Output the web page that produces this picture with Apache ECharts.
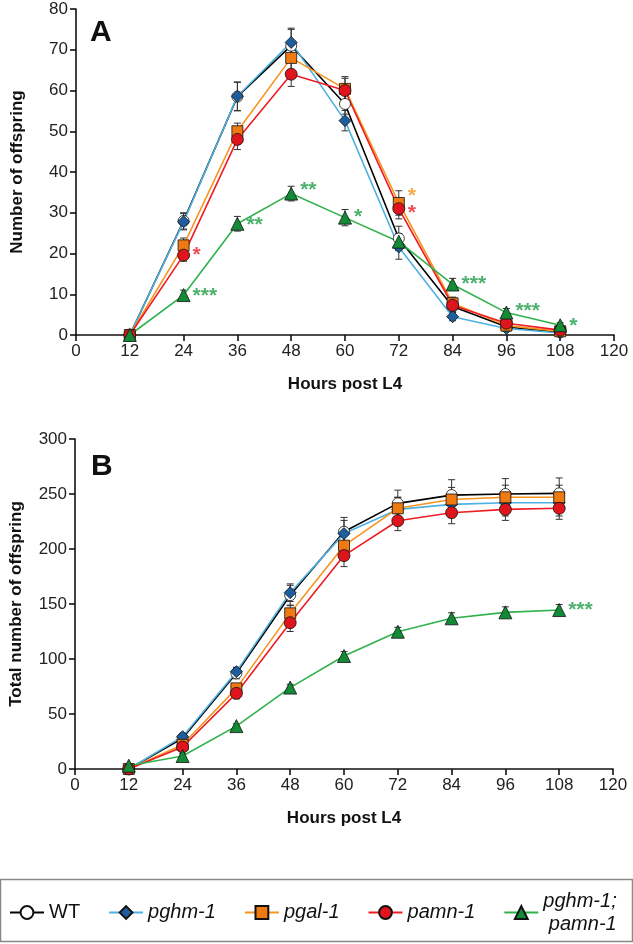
<!DOCTYPE html>
<html>
<head>
<meta charset="utf-8">
<script src="https://cdn.jsdelivr.net/npm/echarts@6/dist/echarts.min.js"></script>
<style>
  html, body { margin: 0; padding: 0; background: #fff; }
  #main { width: 633px; height: 944px; }
</style>
</head>
<body>
<div id="main"></div>
<script>
// hours post L4
const hours = [12, 24, 36, 48, 60, 72, 84, 96, 108];

// panel A: number of offspring per interval
const wtA   = [0, 28, 58.5, 71, 56.7, 23.7, 7, 2, 0.7];
const pghmA = [0, 27.8, 58.6, 71.8, 52.6, 21.6, 4.5, 1.6, 0.5];
const pgalA = [0, 22, 50, 68, 60.4, 32.4, 7.8, 2.3, 0.9];
const pamnA = [0, 19.6, 48, 64, 60, 31, 7.3, 2.9, 1.2];
const dblA  = [0, 9.8, 27.3, 34.7, 28.8, 22.9, 12.4, 5.5, 2.4];
const wtAErr   = [0.3, 2, 3.5, 4, 2.5, 3, 1.5, 0.8, 0.5];
const pghmAErr = [0.3, 2, 3.5, 3.5, 2.5, 3, 1, 0.6, 0.4];
const pgalAErr = [0.3, 1.8, 2, 3, 3, 3, 1.5, 0.8, 0.5];
const pamnAErr = [0.3, 1.5, 2.5, 3, 3, 2.5, 1.5, 0.8, 0.5];
const dblAErr  = [0.3, 1.2, 1.8, 1.8, 2, 2, 1.5, 1, 0.6];

// panel B: cumulative offspring
const wtB   = [0, 28, 87, 158, 215.7, 241.5, 249, 250, 250.6];
const pghmB = [0, 29.4, 88.5, 160.3, 214, 236, 240.6, 242, 242];
const pgalB = [0, 22, 73.3, 141.5, 203, 237, 245, 247, 247];
const pamnB = [0, 20, 68.8, 133, 194, 225.7, 233, 236, 237];
const dblB  = [3, 11.8, 39, 74, 102.7, 124.8, 137, 142.4, 144.5];
const wtBErr   = [0.5, 3, 5, 9, 13, 12, 14, 14, 14];
const pghmBErr = [0.5, 3, 4, 8, 12, 11, 12, 12, 12];
const pgalBErr = [0.5, 3, 4, 7, 10, 10, 11, 11, 11];
const pamnBErr = [0.5, 3, 5, 8, 10, 9, 10, 10, 10];
const dblBErr  = [0.5, 2, 2, 3, 4, 4, 5, 5, 5];

// significance marks [hour, value, text]
const starsARed    = [[24, 19.5, '*'], [72, 30, '*']];
const starsAOrange = [[72, 34, '*']];
const starsAGreen  = [[24, 9.5, '***'], [36, 27, '**'], [48, 35.5, '**'], [60, 29, '*'],
                      [84, 12.5, '***'], [96, 5.8, '***'], [108, 2.2, '*']];
const starsBGreen  = [[108, 144, '***']];

const names = ['WT', 'pghm-1', 'pgal-1', 'pamn-1', 'pghm-1;\npamn-1'];
const lineColors = ['#000000', '#4fb0e2', '#f7941d', '#ee1c25', '#2fb24b'];
const fillColors = ['#ffffff', '#1d5f9e', '#f07a12', '#e0141c', '#138a36'];
const symbols = ['circle', 'diamond', 'rect', 'circle', 'triangle'];
const symbolSizes = [11, 12, 11, 12, 13];

const FONT = 'Liberation Sans, Arial, sans-serif';

function lineSeries(i, vals, gi) {
  return {
    name: names[i],
    type: 'line',
    xAxisIndex: gi, yAxisIndex: gi,
    data: hours.map((h, k) => [h, vals[k]]),
    symbol: symbols[i],
    symbolSize: symbolSizes[i],
    lineStyle: { color: lineColors[i], width: 1.6 },
    itemStyle: { color: fillColors[i], borderColor: '#111', borderWidth: 0.8 },
    z: 3,
    animation: false
  };
}

function errSeries(vals, errs, gi) {
  return {
    type: 'custom',
    xAxisIndex: gi, yAxisIndex: gi,
    data: hours.map((h, k) => [h, vals[k] - errs[k], vals[k] + errs[k]]),
    renderItem: function (params, api) {
      const lo = api.coord([api.value(0), api.value(1)]);
      const hi = api.coord([api.value(0), api.value(2)]);
      const w = 3.5;
      const st = { stroke: '#333', lineWidth: 1 };
      return {
        type: 'group',
        children: [
          { type: 'line', shape: { x1: lo[0], y1: lo[1], x2: hi[0], y2: hi[1] }, style: st },
          { type: 'line', shape: { x1: hi[0] - w, y1: hi[1], x2: hi[0] + w, y2: hi[1] }, style: st },
          { type: 'line', shape: { x1: lo[0] - w, y1: lo[1], x2: lo[0] + w, y2: lo[1] }, style: st }
        ]
      };
    },
    z: 2,
    silent: true,
    animation: false
  };
}

function starSeries(data, color, gi) {
  return {
    type: 'scatter',
    xAxisIndex: gi, yAxisIndex: gi,
    data: data,
    symbolSize: 0,
    label: {
      show: true,
      position: 'right',
      distance: 9,
      formatter: p => p.data[2],
      color: color,
      fontSize: 21,
      fontWeight: 'bold',
      fontFamily: FONT
    },
    silent: true,
    z: 4,
    animation: false
  };
}

const axisLabel = { fontSize: 17, color: '#222', fontFamily: FONT };
const nameStyle = { fontSize: 17, fontWeight: 'bold', color: '#111', fontFamily: FONT };
const axisLine = { show: true, onZero: false, lineStyle: { color: '#111', width: 1.6 } };
const axisTick = { show: true, length: 6, lineStyle: { color: '#111', width: 1.6 } };

function xAxis(gi) {
  return {
    type: 'value', gridIndex: gi, min: 0, max: 120, interval: 12,
    name: 'Hours post L4', nameLocation: 'middle', nameGap: 41, nameTextStyle: nameStyle,
    axisLine: axisLine, axisTick: axisTick, axisLabel: Object.assign({ margin: 8 }, axisLabel),
    splitLine: { show: false }
  };
}

function yAxis(gi, max, interval, title, gap) {
  return {
    type: 'value', gridIndex: gi, min: 0, max: max, interval: interval,
    name: title, nameLocation: 'middle', nameGap: gap, nameRotate: 90, nameTextStyle: nameStyle,
    axisLine: axisLine, axisTick: axisTick, axisLabel: Object.assign({ margin: 8 }, axisLabel),
    splitLine: { show: false }
  };
}

const seriesA = [wtA, pghmA, pgalA, pamnA, dblA];
const errA = [wtAErr, pghmAErr, pgalAErr, pamnAErr, dblAErr];
const seriesB = [wtB, pghmB, pgalB, pamnB, dblB];
const errB = [wtBErr, pghmBErr, pgalBErr, pamnBErr, dblBErr];

const series = [];
for (let i = 0; i < 5; i++) {
  series.push(errSeries(seriesA[i], errA[i], 0));
  series.push(errSeries(seriesB[i], errB[i], 1));
}
for (let i = 0; i < 5; i++) {
  series.push(lineSeries(i, seriesA[i], 0));
  series.push(lineSeries(i, seriesB[i], 1));
}
series.push(starSeries(starsARed, '#e8202a', 0));
series.push(starSeries(starsAOrange, '#f7941d', 0));
series.push(starSeries(starsAGreen, '#1f9e47', 0));
series.push(starSeries(starsBGreen, '#1f9e47', 1));

const chart = echarts.init(document.getElementById('main'), null, { renderer: 'canvas' });
chart.setOption({
  backgroundColor: '#fff',
  animation: false,
  textStyle: { fontFamily: FONT },
  grid: [
    { left: 76, top: 9, width: 538, height: 326 },
    { left: 74, top: 439, width: 539, height: 330 }
  ],
  xAxis: [xAxis(0), xAxis(1)],
  yAxis: [
    yAxis(0, 80, 10, 'Number of offspring', 50),
    yAxis(1, 300, 50, 'Total number of offspring', 50)
  ],
  legend: {
    data: names,
    left: 4,
    top: 886,
    itemWidth: 34,
    itemHeight: 16,
    itemGap: 28,
    selectedMode: false,
    formatter: function (n) {
      if (n === 'WT') return '{n|WT}';
      if (n.indexOf('\n') >= 0) return '{i|pghm-1;}\n{i|pamn-1}';
      return '{i|' + n + '}';
    },
    textStyle: {
      fontFamily: FONT,
      color: '#111',
      rich: {
        n: { fontSize: 20, fontFamily: FONT, color: '#111' },
        i: { fontSize: 20, fontStyle: 'italic', fontFamily: FONT, color: '#111', lineHeight: 23, align: 'right' }
      }
    }
  },
  graphic: [
    { type: 'rect', shape: { x: 0.5, y: 879.5, width: 632, height: 62 }, style: { fill: 'none', stroke: '#888', lineWidth: 1.5 } },
    { type: 'text', left: 90, top: 18, style: { text: 'A', fontSize: 30, fontWeight: 'bold', fill: '#111', fontFamily: FONT } },
    { type: 'text', left: 91, top: 452, style: { text: 'B', fontSize: 30, fontWeight: 'bold', fill: '#111', fontFamily: FONT } }
  ],
  series: series
});
</script>
</body>
</html>
